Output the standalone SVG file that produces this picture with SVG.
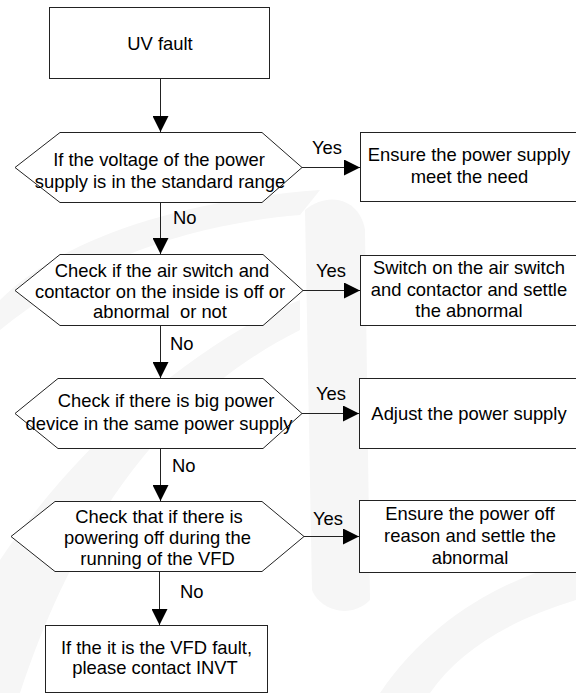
<svg xmlns="http://www.w3.org/2000/svg" width="576" height="693" viewBox="0 0 576 693">
  <defs>
    <marker id="arr" markerUnits="userSpaceOnUse" markerWidth="16" markerHeight="16" refX="16" refY="8" orient="auto">
      <path d="M0,0 L16,8 L0,16 z" fill="#000"/>
    </marker>
    <style>
      .shape { fill: #fff; stroke: #222; stroke-width: 1; }
      .conn { stroke: #222; stroke-width: 1; fill: none; marker-end: url(#arr); }
      text { font-family: "Liberation Sans", Arial, sans-serif; font-size: 18.4px; fill: #000; }
      .c { text-anchor: middle; }
      .wm { fill: #f6f6f6; stroke: none; }
    </style>
  </defs>
  <rect width="576" height="693" fill="#fff"/>
  <g id="watermark">
    <path class="wm" d="M0,300 C60,240 180,200 320,190 L300,215 C180,225 80,265 0,330 z"/>
    <path class="wm" d="M305,210 C330,190 360,200 365,230 L370,600 C350,620 320,610 312,590 z"/>
    <path class="wm" d="M0,560 C80,440 200,340 300,300 L300,330 C200,380 90,480 20,693 L0,693 z"/>
    <path class="wm" d="M380,693 C430,620 500,580 576,560 L576,600 C510,620 460,650 430,693 z"/>
  </g>
  <g id="connectors">
    <line class="conn" x1="160.5" y1="78" x2="160.5" y2="132"/>
    <line class="conn" x1="160.5" y1="202" x2="160.5" y2="254"/>
    <line class="conn" x1="160.5" y1="325" x2="160.5" y2="378"/>
    <line class="conn" x1="160.5" y1="448" x2="160.5" y2="501"/>
    <line class="conn" x1="159.5" y1="571" x2="159.5" y2="625"/>
    <line class="conn" x1="302" y1="167.5" x2="360" y2="167.5"/>
    <line class="conn" x1="303" y1="290.5" x2="360" y2="290.5"/>
    <line class="conn" x1="302" y1="413.5" x2="359" y2="413.5"/>
    <line class="conn" x1="304" y1="536.5" x2="359" y2="536.5"/>
    <text x="173" y="223.5">No</text>
    <text x="170" y="349.5">No</text>
    <text x="172" y="471.5">No</text>
    <text x="180" y="597.5">No</text>
    <text x="312" y="154">Yes</text>
    <text x="316" y="276.5">Yes</text>
    <text x="316" y="400">Yes</text>
    <text x="313" y="525">Yes</text>
  </g>
  <g id="start">
    <rect class="shape" x="49.5" y="7.5" width="220" height="71"/>
    <text class="c" x="160" y="49.5">UV fault</text>
  </g>
  <g id="q1">
    <polygon class="shape" points="15,167.5 60,132.5 262,132.5 302,167.5 262,202.5 60,202.5"/>
    <text class="c" x="159" y="165.5">If the voltage of the power</text>
    <text class="c" x="160" y="188">supply is in the standard range</text>
  </g>
  <g id="a1">
    <rect class="shape" x="360.5" y="132.5" width="218" height="69"/>
    <text class="c" x="469" y="160.5">Ensure the power supply</text>
    <text class="c" x="469.5" y="183">meet the need</text>
  </g>
  <g id="q2">
    <polygon class="shape" points="15,290.5 60,254.5 263,254.5 303,290.5 263,325.5 60,325.5"/>
    <text class="c" x="162" y="276.5">Check if the air switch and</text>
    <text class="c" x="160" y="298">contactor on the inside is off or</text>
    <text class="c" x="160" y="318" xml:space="preserve" style="white-space:pre">abnormal  or not</text>
  </g>
  <g id="a2">
    <rect class="shape" x="360.5" y="255.5" width="218" height="70"/>
    <text class="c" x="469" y="274">Switch on the air switch</text>
    <text class="c" x="469" y="295.5">and contactor and settle</text>
    <text class="c" x="469" y="317">the abnormal</text>
  </g>
  <g id="q3">
    <polygon class="shape" points="15,413.5 58,378.5 263,378.5 302,413.5 263,448.5 58,448.5"/>
    <text class="c" x="166" y="406.5">Check if there is big power</text>
    <text class="c" x="159" y="429.5">device in the same power supply</text>
  </g>
  <g id="a3">
    <rect class="shape" x="359.5" y="378.5" width="219" height="70"/>
    <text class="c" x="469" y="419.5">Adjust the power supply</text>
  </g>
  <g id="q4">
    <polygon class="shape" points="11,536.5 55,501.5 262,501.5 304,536.5 262,571.5 55,571.5"/>
    <text class="c" x="159" y="523">Check that if there is</text>
    <text class="c" x="157.5" y="544">powering off during the</text>
    <text class="c" x="157.5" y="565">running of the VFD</text>
  </g>
  <g id="a4">
    <rect class="shape" x="359.5" y="500.5" width="219" height="72"/>
    <text class="c" x="470" y="519.5">Ensure the power off</text>
    <text class="c" x="470" y="542">reason and settle the</text>
    <text class="c" x="470" y="564">abnormal</text>
  </g>
  <g id="end">
    <rect class="shape" x="45.5" y="625.5" width="222" height="67"/>
    <text class="c" x="156.5" y="653.5">If the it is the VFD fault,</text>
    <text class="c" x="155" y="674">please contact INVT</text>
  </g>
</svg>
